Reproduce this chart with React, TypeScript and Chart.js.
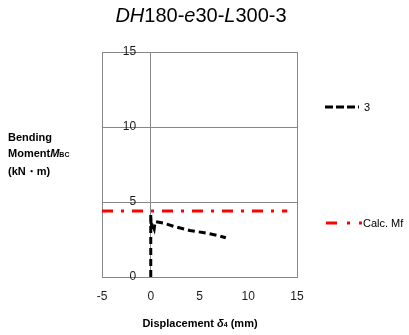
import React, { useEffect, useRef } from "react";
import { Chart, registerables } from "chart.js";

Chart.register(...registerables);

// ---- data ----
const xTickValues = [-5, 0, 5, 10, 15];
const yTickValues = [0, 5, 10, 15];
const seriesName = "3";
const dispX = [0, 0, 0, 0.05, 0.1, 0.35, 0.45, 1.3, 2.5, 4.0, 5.5, 6.8, 7.7];
const momentY = [0, 2, 4.2, 3.2, 3.6, 3.2, 3.7, 3.6, 3.35, 3.1, 2.95, 2.78, 2.62];
const mfName = "Calc. Mf";
const mfX = [-5, 14];
const mfY = [4.4, 4.4];

const GRAY = "#878787";
const FONT = "'Liberation Sans', Arial, sans-serif";
const Y_LABEL_ANCHOR = -1.5; // x value where the y tick labels end (left of the x=0 line)

export default function App() {
  const canvasRef = useRef<HTMLCanvasElement | null>(null);

  useEffect(() => {
    const canvas = canvasRef.current;
    if (!canvas) return;
    const chart = new Chart(canvas, {
      type: "scatter",
      data: {
        datasets: [
          {
            label: seriesName,
            data: dispX.map((x, i) => ({ x, y: momentY[i] })),
            showLine: true,
            borderColor: "#000000",
            backgroundColor: "#000000",
            borderWidth: 3,
            borderDash: [7, 4],
            pointRadius: 0,
            tension: 0,
          },
          {
            label: mfName,
            data: mfX.map((x, i) => ({ x, y: mfY[i] })),
            showLine: true,
            borderColor: "#ff0000",
            backgroundColor: "#ff0000",
            borderWidth: 3,
            borderDash: [11, 8, 3, 8],
            pointRadius: 0,
          },
        ],
      },
      options: {
        responsive: true,
        maintainAspectRatio: false,
        animation: false,
        layout: { padding: { left: 102, right: 112, top: 52, bottom: 0 } },
        plugins: {
          legend: { display: false },
          tooltip: { enabled: false },
          title: { display: false },
        },
        scales: {
          x: {
            type: "linear",
            position: "bottom",
            min: -5,
            max: 15,
            afterBuildTicks: (s: any) => {
              s.ticks = xTickValues.map((v) => ({ value: v }));
            },
            afterFit: (s: any) => {
              s.height = 58;
            },
            ticks: {
              padding: 12,
              color: "#1a1a1a",
              font: { family: FONT, size: 12 },
            },
            grid: {
              drawTicks: false,
              lineWidth: 1,
              color: (ctx: any) =>
                ctx.tick &&
                (ctx.tick.value === -5 || ctx.tick.value === 0 || ctx.tick.value === 15)
                  ? GRAY
                  : "rgba(0,0,0,0)",
            },
            border: { display: true, color: GRAY, width: 1 },
          },
          y: {
            type: "linear",
            position: { x: Y_LABEL_ANCHOR } as any,
            min: 0,
            max: 15,
            afterBuildTicks: (s: any) => {
              s.ticks = yTickValues.map((v) => ({ value: v }));
            },
            ticks: {
              padding: 0,
              color: "#1a1a1a",
              font: { family: FONT, size: 12 },
            },
            grid: { drawTicks: false, color: GRAY, lineWidth: 1 },
            border: { display: false },
          },
        },
      },
    });
    return () => chart.destroy();
  }, []);

  const txt: React.CSSProperties = {
    position: "absolute",
    fontFamily: FONT,
    color: "#000",
    whiteSpace: "nowrap",
  };

  return (
    <div
      style={{
        position: "fixed",
        left: 0,
        top: 0,
        width: 409,
        height: 335,
        background: "#fff",
      }}
    >
      <canvas ref={canvasRef} style={{ position: "absolute", left: 0, top: 0 }} />
      <div
        style={{
          ...txt,
          left: 0,
          width: 402,
          top: 5,
          textAlign: "center",
          fontSize: 20,
          lineHeight: "20px",
        }}
      >
        <i>DH</i>180-<i>e</i>30-<i>L</i>300-3
      </div>
      <div
        style={{
          ...txt,
          left: 8,
          top: 129,
          fontSize: 11,
          fontWeight: "bold",
          lineHeight: "16px",
        }}
      >
        <div>Bending</div>
        <div>
          Moment<i>M</i>
          <span style={{ fontSize: 7 }}>BC</span>
        </div>
        <div>(kN・m)</div>
      </div>
      <div
        style={{
          ...txt,
          left: 100,
          width: 200,
          top: 316,
          textAlign: "center",
          fontSize: 11,
          fontWeight: "bold",
          lineHeight: "14px",
        }}
      >
        Displacement <i>δ</i>
        <span style={{ fontSize: 7 }}>4</span> (mm)
      </div>
      {/* legend */}
      <svg
        style={{ position: "absolute", left: 322, top: 100 }}
        width={42}
        height={14}
      >
        <line
          x1={3}
          y1={7}
          x2={37}
          y2={7}
          stroke="#000"
          strokeWidth={3}
          strokeDasharray="8,3"
        />
      </svg>
      <div style={{ ...txt, left: 364, top: 100, fontSize: 11, lineHeight: "14px" }}>
        {seriesName}
      </div>
      <svg
        style={{ position: "absolute", left: 322, top: 216 }}
        width={42}
        height={14}
      >
        <line x1={4} y1={7} x2={15} y2={7} stroke="#ff0000" strokeWidth={3} />
        <line x1={25} y1={7} x2={28} y2={7} stroke="#ff0000" strokeWidth={3} />
        <line x1={37} y1={7} x2={40} y2={7} stroke="#ff0000" strokeWidth={3} />
      </svg>
      <div style={{ ...txt, left: 363, top: 216, fontSize: 11, lineHeight: "14px" }}>
        {mfName}
      </div>
    </div>
  );
}
